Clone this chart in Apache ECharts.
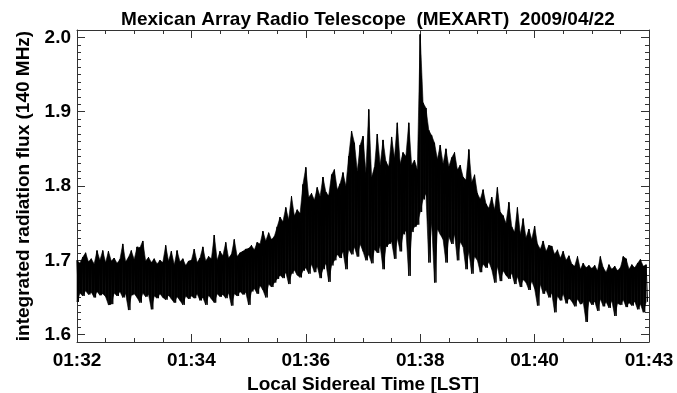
<!DOCTYPE html>
<html>
<head>
<meta charset="utf-8">
<title>MEXART 2009/04/22</title>
<script src="https://cdn.jsdelivr.net/npm/echarts@6/dist/echarts.min.js"></script>
<style>
  html, body { margin: 0; padding: 0; background: #fff; }
  #chart { width: 677px; height: 393px; }
</style>
</head>
<body>
<div id="chart"></div>
<script>
// Integrated 140 MHz flux, summarised per 3-second bin (0.05 min) as the
// highest and lowest sample in the bin, starting at 01:32 LST.
const binMinutes = 0.05;

const fluxMax = [
  1.700, 1.696, 1.704, 1.710, 1.698, 1.702, 1.695, 1.713, 1.700, 1.713, 1.697, 1.712, 1.699, 1.703, 1.696, 1.701, 1.722, 1.698, 1.704, 1.713,
  1.701, 1.718, 1.717, 1.726, 1.699, 1.704, 1.697, 1.702, 1.695, 1.700, 1.697, 1.720, 1.699, 1.712, 1.694, 1.713, 1.698, 1.702, 1.693, 1.699,
  1.700, 1.715, 1.697, 1.703, 1.718, 1.699, 1.705, 1.702, 1.734, 1.700, 1.712, 1.706, 1.724, 1.703, 1.708, 1.728, 1.705, 1.710, 1.712, 1.715,
  1.716, 1.720, 1.714, 1.724, 1.722, 1.739, 1.726, 1.737, 1.728, 1.732, 1.745, 1.758, 1.752, 1.771, 1.755, 1.786, 1.760, 1.768, 1.763, 1.802,
  1.825, 1.785, 1.790, 1.781, 1.798, 1.786, 1.812, 1.792, 1.787, 1.815, 1.822, 1.795, 1.803, 1.818, 1.800, 1.840, 1.874, 1.858, 1.820, 1.855,
  1.867, 1.818, 1.903, 1.812, 1.825, 1.870, 1.828, 1.862, 1.833, 1.826, 1.866, 1.838, 1.885, 1.830, 1.845, 1.840, 1.885, 1.828, 1.835, 1.822,
  2.004, 1.912, 1.905, 1.875, 1.868, 1.858, 1.836, 1.855, 1.830, 1.850, 1.826, 1.838, 1.845, 1.822, 1.828, 1.812, 1.808, 1.849, 1.805, 1.815,
  1.790, 1.782, 1.795, 1.776, 1.770, 1.785, 1.768, 1.798, 1.765, 1.760, 1.750, 1.778, 1.745, 1.738, 1.771, 1.735, 1.756, 1.730, 1.742, 1.728,
  1.746, 1.722, 1.715, 1.726, 1.712, 1.720, 1.719, 1.708, 1.714, 1.703, 1.712, 1.700, 1.706, 1.695, 1.692, 1.705, 1.688, 1.696, 1.690, 1.693,
  1.689, 1.693, 1.686, 1.705, 1.690, 1.684, 1.694, 1.688, 1.692, 1.686, 1.690, 1.705, 1.702, 1.688, 1.694, 1.690, 1.696, 1.701, 1.692, 1.694
];

const fluxMin = [
  1.644, 1.656, 1.652, 1.659, 1.654, 1.657, 1.650, 1.658, 1.653, 1.655, 1.651, 1.640, 1.641, 1.656, 1.652, 1.658, 1.650, 1.655, 1.633, 1.653,
  1.655, 1.650, 1.643, 1.656, 1.651, 1.654, 1.634, 1.652, 1.649, 1.655, 1.650, 1.647, 1.653, 1.648, 1.643, 1.651, 1.646, 1.640, 1.652, 1.648,
  1.652, 1.649, 1.655, 1.646, 1.650, 1.640, 1.653, 1.648, 1.643, 1.655, 1.651, 1.654, 1.649, 1.656, 1.639, 1.655, 1.652, 1.658, 1.654, 1.657,
  1.640, 1.658, 1.662, 1.655, 1.666, 1.660, 1.650, 1.668, 1.664, 1.670, 1.675, 1.680, 1.676, 1.684, 1.668, 1.682, 1.687, 1.680, 1.677, 1.686,
  1.690, 1.682, 1.695, 1.684, 1.692, 1.676, 1.688, 1.696, 1.671, 1.693, 1.700, 1.708, 1.703, 1.712, 1.688, 1.715, 1.708, 1.718, 1.705, 1.722,
  1.712, 1.700, 1.708, 1.696, 1.715, 1.710, 1.720, 1.688, 1.718, 1.722, 1.725, 1.702, 1.730, 1.712, 1.735, 1.740, 1.679, 1.738, 1.745, 1.748,
  1.765, 1.782, 1.790, 1.697, 1.752, 1.670, 1.742, 1.735, 1.728, 1.697, 1.732, 1.722, 1.735, 1.700, 1.725, 1.718, 1.688, 1.712, 1.682, 1.705,
  1.700, 1.684, 1.695, 1.690, 1.698, 1.688, 1.670, 1.692, 1.672, 1.686, 1.680, 1.675, 1.683, 1.668, 1.678, 1.664, 1.674, 1.670, 1.660, 1.672,
  1.662, 1.639, 1.668, 1.655, 1.660, 1.650, 1.656, 1.630, 1.652, 1.646, 1.655, 1.642, 1.649, 1.645, 1.638, 1.648, 1.641, 1.644, 1.617, 1.646,
  1.640, 1.645, 1.632, 1.648, 1.638, 1.644, 1.636, 1.646, 1.625, 1.642, 1.640, 1.647, 1.637, 1.643, 1.639, 1.645, 1.634, 1.641, 1.630, 1.644
];

// Axis annotation
const xTickLabels = ['01:32', '01:34', '01:36', '01:38', '01:40', '01:43'];
const yTickValues = [1.6, 1.7, 1.8, 1.9, 2.0];

const titleText = 'Mexican Array Radio Telescope  (MEXART)  2009/04/22';
const xTitle = 'Local Sidereal Time [LST]';
const yTitle = 'integrated radiation flux (140 MHz)';

// One record per bin: start time, bin maximum, bin minimum
const bins = fluxMax.map((v, i) => [i * binMinutes, v, fluxMin[i]]);

// Stroke running top-to-bottom through every bin, for the needle texture
const trace = [];
for (let i = 0; i < fluxMax.length; i++) {
  trace.push([i * binMinutes, fluxMax[i]]);
  trace.push([i * binMinutes + binMinutes / 2, fluxMin[i]]);
}

const FONT = '"Liberation Sans", Arial, Helvetica, sans-serif';
const AXIS_COLOR = '#333';

const frameY = (position, major) => ({
  type: 'value',
  position: position,
  min: 1.59,
  max: 2.01,
  interval: major ? undefined : 0.01,
  axisLine: { show: major, lineStyle: { color: AXIS_COLOR, width: 1 } },
  axisTick: major
    ? { show: true, inside: true, length: 8, customValues: yTickValues, lineStyle: { color: AXIS_COLOR } }
    : { show: true, inside: true, length: 4, lineStyle: { color: AXIS_COLOR } },
  axisLabel: { show: false },
  splitLine: { show: false }
});

const frameX = (position) => ({
  type: 'value',
  position: position,
  min: 0,
  max: 10,
  interval: 2,
  axisLine: { show: true, onZero: false, lineStyle: { color: AXIS_COLOR, width: 1 } },
  axisTick: { show: true, inside: true, length: 8, lineStyle: { color: AXIS_COLOR } },
  minorTick: { show: true, splitNumber: 4, length: 4, lineStyle: { color: AXIS_COLOR } },
  axisLabel: { show: false },
  splitLine: { show: false }
});

const xBottom = frameX('bottom');
xBottom.axisLabel = {
  show: true,
  margin: 9,
  fontFamily: FONT,
  fontSize: 19,
  fontWeight: 'bold',
  color: '#000',
  formatter: (v) => xTickLabels[Math.round(v / 2)]
};
xBottom.name = xTitle;
xBottom.nameLocation = 'middle';
xBottom.nameGap = 24;
xBottom.nameTextStyle = { fontFamily: FONT, fontSize: 19, fontWeight: 'bold', color: '#000' };

const yLeft = frameY('left', true);
yLeft.axisLabel = {
  show: true,
  margin: 6,
  customValues: yTickValues,
  fontFamily: FONT,
  fontSize: 19,
  fontWeight: 'bold',
  color: '#000',
  formatter: (v) => v.toFixed(1)
};
yLeft.name = yTitle;
yLeft.nameLocation = 'middle';
yLeft.nameGap = 44;
yLeft.nameTextStyle = { fontFamily: FONT, fontSize: 19, fontWeight: 'bold', color: '#000' };

// Fill the band between consecutive bins: maxima along the top, minima along the bottom
function renderBand(params, api) {
  const i = params.dataIndex;
  if (i >= bins.length - 1) return null;
  const a = bins[i];
  const b = bins[i + 1];
  const pts = [
    api.coord([a[0], a[1]]),
    api.coord([b[0], b[1]]),
    api.coord([b[0], b[2]]),
    api.coord([a[0], a[2]])
  ];
  return {
    type: 'polygon',
    shape: { points: pts },
    style: { fill: '#000', stroke: '#000', lineWidth: 0.6 }
  };
}

const chart = echarts.init(document.getElementById('chart'), null, { renderer: 'canvas' });
chart.setOption({
  backgroundColor: '#fff',
  animation: false,
  title: {
    text: titleText,
    left: 363,
    textAlign: 'center',
    top: 5,
    textStyle: { fontFamily: FONT, fontSize: 19, fontWeight: 'bold', color: '#000' }
  },
  grid: { left: 77, right: 28, top: 30, bottom: 51, outerBoundsMode: 'none' },
  xAxis: [xBottom, frameX('top')],
  yAxis: [yLeft, frameY('left', false), frameY('right', true), frameY('right', false)],
  series: [
    {
      type: 'custom',
      data: bins,
      encode: { x: 0, y: [1, 2] },
      renderItem: renderBand,
      silent: true
    },
    {
      type: 'line',
      data: trace,
      showSymbol: false,
      symbol: 'none',
      sampling: null,
      lineStyle: { color: '#000', width: 1 },
      silent: true
    }
  ]
});
</script>
</body>
</html>
